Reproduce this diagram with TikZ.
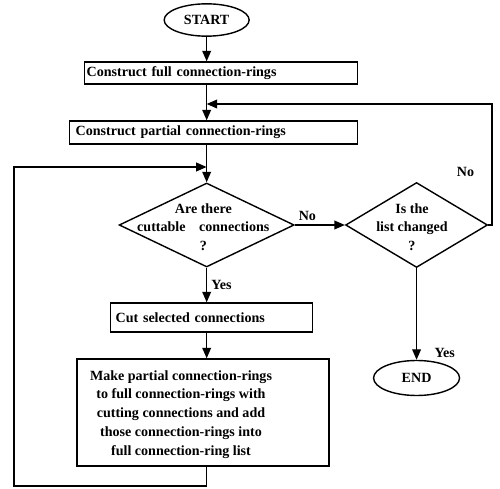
\documentclass[tikz,border=0pt]{standalone}
\usepackage{fontspec}
\setmainfont{Liberation Serif}
\usetikzlibrary{arrows.meta, positioning, shapes.geometric}
\tikzstyle{flow}=[line width=1.2pt, >={Triangle[length=9pt,width=7.5pt]}, font=\fontsize{12}{16}\selectfont\bfseries]
\tikzstyle{terminal}=[draw, ellipse, inner sep=0pt, minimum width=2.55cm, minimum height=0.97cm]
\tikzstyle{box}=[draw, rectangle, inner ysep=0pt]
\tikzstyle{process}=[box, anchor=west, align=left]
\tikzstyle{decision}=[draw, diamond, inner sep=0pt]
\tikzstyle{txt}=[align=center, inner sep=0pt]

\begin{document}
\begin{tikzpicture}[flow]
  \useasboundingbox (0,0) rectangle (15,-14.67);
  \node[terminal] (start) at (6.2,-0.6) {START};
  \node[process, inner xsep=0.06cm, text width=8.07cm, minimum height=0.66cm] (full) at (2.52,-2.19) {Construct full connection-rings};
  \node[process, inner xsep=0.18cm, text width=8.28cm, minimum height=0.69cm] (partial) at (2.07,-3.975) {Construct partial connection-rings};
  \node[decision, minimum width=5.25cm, minimum height=2.52cm] (cuttable) at (6.2,-6.75) {};
  \node[txt] (cuttabletxt) at (6.1,-6.81) {Are there\\cuttable\hspace{0.3cm} connections\\?};
  \node[decision, minimum width=4.26cm, minimum height=2.55cm] (changed) [right=1.5cm of cuttable] {};
  \node[txt] (changedtxt) at (12.36,-6.81) {Is the\\list changed\\?};
  \node[process, inner xsep=0.15cm, text width=5.76cm, minimum height=0.87cm] (cut) at (3.3,-9.525) {Cut selected connections};
  \node[box, minimum width=7.56cm, minimum height=3.21cm] (make) at (6.09,-12.375) {};
  \node[txt] (maketxt) at (5.43,-12.43) {Make partial connection-rings\\to full connection-rings with\\cutting connections and add\\those connection-rings into\\full connection-ring list};
  \node[terminal, minimum width=2.58cm, minimum height=1.05cm] (end) at (changed |- 0,-11.34) {END};
  \coordinate (fb) at (14.76,-3.12);
  \coordinate (loopL) at (0.42,-14.58);
  \coordinate (loopT) at (6.2,-5.01);
  \draw[->] (start) -- (start |- full.north);
  \draw[->] (full.south -| start) -- (start |- partial.north);
  \draw[->] (partial.south -| start) -- (cuttable.north);
  \draw[->] (cuttable.east) -- node[above, pos=0.25] {No} (changed.west);
  \draw[->] (cuttable.south) -- node[right] {Yes} (start |- cut.north);
  \draw[->] (cut.south -| start) -- (start |- make.north);
  \draw[->] (changed.south) -- node[right=0.4cm, pos=0.93] {Yes} (end.north);
  \draw[->] (changed.east) -| (fb) node[left=0.4cm, pos=0.72] {No} -- (fb -| start);
  \draw[->] (make.south -| start) |- (loopL) |- (loopT);
\end{tikzpicture}
\end{document}
